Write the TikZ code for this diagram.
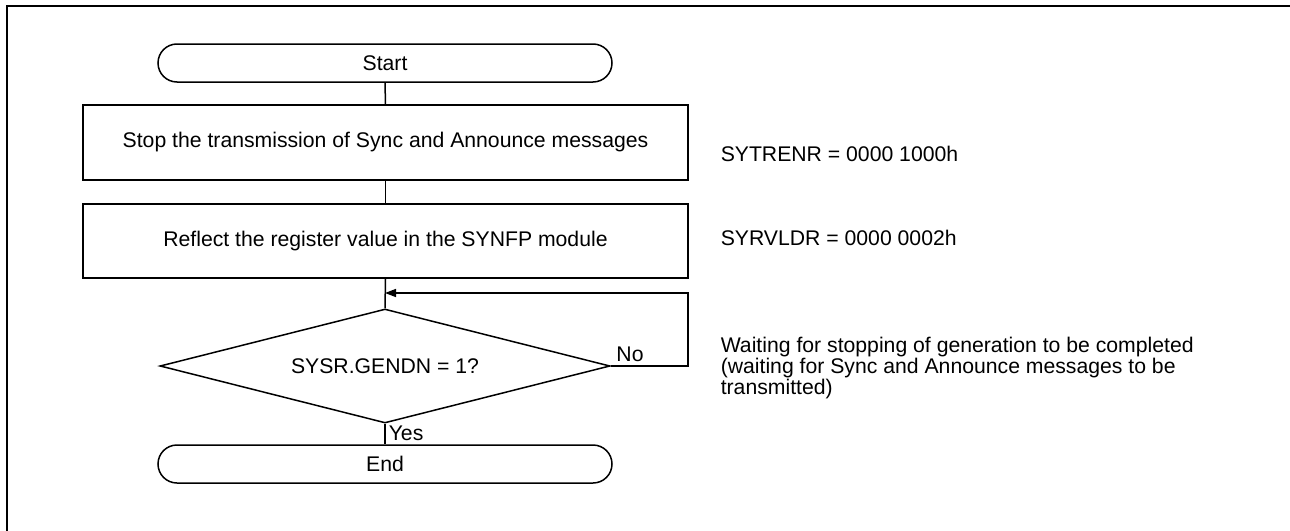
\documentclass[tikz,border=0pt]{standalone}
\usepackage{fontspec}
\setmainfont{Liberation Sans}
\usetikzlibrary{shapes.geometric,arrows.meta}
\begin{document}
\begin{tikzpicture}[x=1pt,y=-1pt,
  font=\fontsize{21.2pt}{21pt}\selectfont,
  line width=1.5pt,
  term/.style={draw, rounded corners=19pt, minimum width=454pt, minimum height=38pt, inner sep=0pt},
  proc/.style={draw, minimum width=605pt, inner sep=0pt},
  decis/.style={draw, diamond, aspect=3.95, minimum width=450pt, minimum height=114pt, inner sep=0pt},
  note/.style={anchor=west, inner sep=0pt, align=left, font=\fontsize{21.2pt}{19.5pt}\selectfont},
  lbl/.style={inner sep=0pt}]
\useasboundingbox (0,0) rectangle (1290,530);
\begin{scope}
\clip (0,0) rectangle (1290,530);
\draw[line width=2.8pt] (7,540) -- (7,6) -- (1300,6);
\end{scope}
\node[term] (start) at (385,63) {Start};
\node[proc, minimum height=75pt] (b1) at (385.5,142.5) {Stop the transmission of Sync and Announce messages};
\node[proc, minimum height=74pt] (b2) at (385.5,241) {Reflect the register value in the SYNFP module};
\node[decis] (dec) at (385,366) {SYSR.GENDN = 1?};
\node[term] (end) at (385,464) {End};
\coordinate (lp1) at (688,366);
\coordinate (lp2) at (688,293);
\coordinate (lp3) at (385,293);
\draw (start.south) -- (b1.north);
\draw (b1.south) -- (b2.north);
\draw (b2.south) -- (dec.north);
\draw (dec.south) -- (end.north);
\draw[-{Triangle[length=11pt,width=8pt]}] (dec.east) -- (lp1) -- (lp2) -- (lp3);
\node[lbl] (no) at (630,354) {No};
\node[lbl, anchor=west] (yes) at (388,433) {Yes};
\node[note] (n1) at (720,154) {SYTRENR = 0000 1000h};
\node[note] (n2) at (720,238) {SYRVLDR = 0000 0002h};
\node[note] (n3) at (720,368) {Waiting for stopping of generation to be completed\\(waiting for Sync and Announce messages to be\\transmitted)};
\end{tikzpicture}
\end{document}
